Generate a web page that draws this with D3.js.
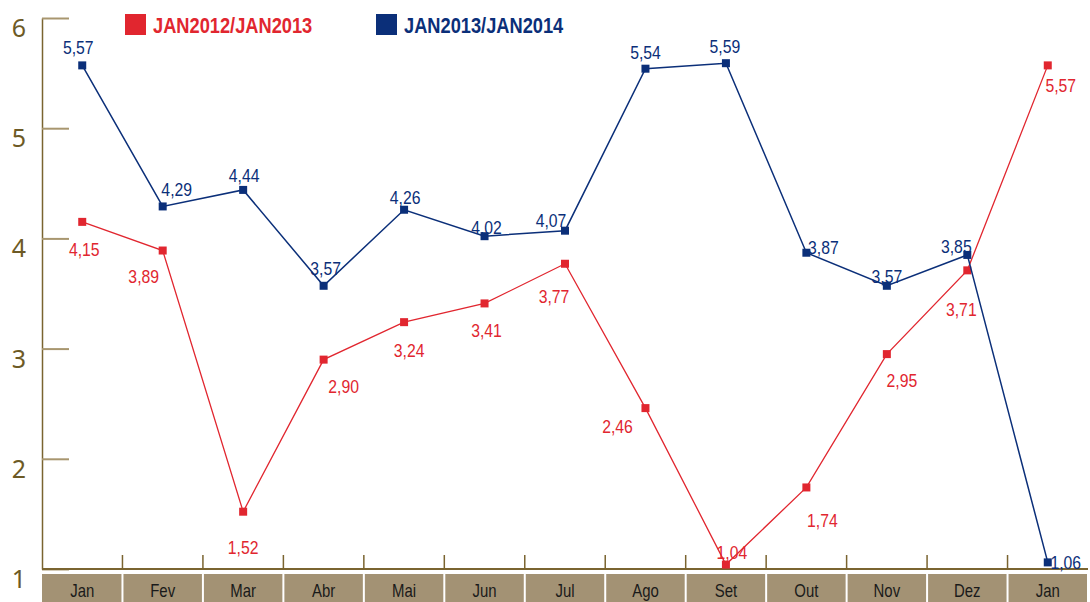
<!DOCTYPE html>
<html>
<head>
<meta charset="utf-8">
<script src="https://cdn.jsdelivr.net/npm/d3@7"></script>
<style>
  body { margin: 0; background: #fff; }
  .narrow { font-family: "Liberation Sans Narrow", "Liberation Sans", Arial, sans-serif; }
</style>
</head>
<body>
<div id="grafico"></div>
<script>
// dados
var meses = ["Jan", "Fev", "Mar", "Abr", "Mai", "Jun", "Jul", "Ago", "Set", "Out", "Nov", "Dez", "Jan"];
var serie1213 = [4.15, 3.89, 1.52, 2.90, 3.24, 3.41, 3.77, 2.46, 1.04, 1.74, 2.95, 3.71, 5.57];
var serie1314 = [5.57, 4.29, 4.44, 3.57, 4.26, 4.02, 4.07, 5.54, 5.59, 3.87, 3.57, 3.85, 1.06];
var yTicks = [1, 2, 3, 4, 5, 6];
var nomes = ["JAN2012/JAN2013", "JAN2013/JAN2014"];

// deslocamento dos rótulos (dx, dy) em relação ao ponto
var offs1213 = [[2, 34], [-19, 32], [0, 42], [20, 33], [5, 35], [2, 34], [-11, 39], [-28, 25], [6, -6], [16, 40], [15, 33], [-6, 46], [13, 27]];
var offs1314 = [[-4, -11], [14, -10], [1, -8], [2, -11], [1, -6], [2, -2], [-14, -4], [0, -10], [-1, -10], [17, 1], [0, -3], [-11, -2], [18, 7]];

var w = 1090, h = 602,
    margin = {top: 18, right: 2, bottom: 33, left: 42},
    red = "#e1262f",
    blue = "#0b2f79",
    brown = "#7a6430",
    squeeze = 0.83; // fonte condensada

var svg = d3.select("#grafico")
            .append("svg")
            .attr("width", w)
            .attr("height", h)
            .style("background-color", "white");

var width = w - margin.left - margin.right,
    height = h - margin.top - margin.bottom,
    g = svg.append("g").attr("transform", "translate(" + margin.left + "," + margin.top + ")");

var x = d3.scaleBand().domain(d3.range(meses.length)).range([0, width]).padding(0);
var y = d3.scaleLinear().domain([1, 6]).range([height, 0]);

function narrowAt(px, py) {
    return "translate(" + px + "," + py + ") scale(" + squeeze + ",1)";
}

// faixa das categorias
var faixa = g.append("g").attr("transform", "translate(0," + (height + 5) + ")");
faixa.selectAll("rect")
    .data(meses)
    .enter()
    .append("rect")
    .attr("x", function (d, i) { return x(i) + (i == 0 ? 0 : 1); })
    .attr("width", function (d, i) { return x.bandwidth() - (i == 0 ? 1 : 2); })
    .attr("y", 0)
    .attr("height", 30)
    .attr("fill", "#a39274");
faixa.selectAll("text")
    .data(meses)
    .enter()
    .append("text")
    .attr("class", "narrow")
    .attr("transform", function (d, i) { return narrowAt(x(i) + x.bandwidth() / 2, 23); })
    .attr("text-anchor", "middle")
    .style("font-size", "18px")
    .attr("fill", "#1a1a1a")
    .text(function (d) { return d; });

// eixo y
var yAxis = d3.axisLeft(y).tickValues(yTicks).tickFormat(d3.format("d")).tickSizeInner(-27).tickSizeOuter(0);
var ay = g.append("g").attr("class", "axisY").call(yAxis);
ay.select(".domain").attr("stroke", brown).attr("stroke-width", 1.5);
ay.selectAll(".tick line").attr("stroke", "#a8966f").attr("stroke-width", 2);
ay.selectAll(".tick text")
    .attr("x", -23)
    .attr("dy", "0.74em")
    .attr("text-anchor", "middle")
    .style("font-family", "'Noto Sans', sans-serif")
    .style("font-size", "25px")
    .attr("fill", "#6d5a25");

// eixo x
g.append("line")
    .attr("x1", 0).attr("x2", width)
    .attr("y1", height).attr("y2", height)
    .attr("stroke", brown).attr("stroke-width", 2);
g.selectAll(".xtick")
    .data(d3.range(1, meses.length))
    .enter()
    .append("line")
    .attr("class", "xtick")
    .attr("x1", function (d) { return x(d); })
    .attr("x2", function (d) { return x(d); })
    .attr("y1", height)
    .attr("y2", height - 14)
    .attr("stroke", brown)
    .attr("stroke-width", 1.5);

var fmt = function (v) { return d3.format(".2f")(v).replace(".", ","); };

function desenhaSerie(valores, offs, cor, larg) {
    var cx = function (i) { return x(i) + x.bandwidth() / 2; };
    var linha = d3.line()
        .x(function (d, i) { return cx(i); })
        .y(function (d) { return y(d); });
    g.append("path")
        .datum(valores)
        .attr("d", linha)
        .attr("fill", "none")
        .attr("stroke", cor)
        .attr("stroke-width", larg);
    var s = g.append("g");
    s.selectAll("rect")
        .data(valores)
        .enter()
        .append("rect")
        .attr("x", function (d, i) { return cx(i) - 4; })
        .attr("y", function (d) { return y(d) - 4; })
        .attr("width", 8)
        .attr("height", 8)
        .attr("fill", cor);
    s.selectAll("text")
        .data(valores)
        .enter()
        .append("text")
        .attr("class", "narrow")
        .attr("transform", function (d, i) { return narrowAt(cx(i) + offs[i][0], y(d) + offs[i][1]); })
        .attr("text-anchor", "middle")
        .style("font-size", "19px")
        .attr("fill", cor)
        .text(function (d) { return fmt(d); });
}

desenhaSerie(serie1213, offs1213, red, 1.3);
desenhaSerie(serie1314, offs1314, blue, 1.5);

// legenda
var leg = svg.append("g");
[[125, red], [376, blue]].forEach(function (p, i) {
    leg.append("rect")
        .attr("x", p[0]).attr("y", 14)
        .attr("width", 21).attr("height", 21)
        .attr("fill", p[1]);
    leg.append("text")
        .attr("class", "narrow")
        .attr("transform", narrowAt(p[0] + 28, 33))
        .style("font-size", "22px")
        .style("font-weight", "bold")
        .attr("fill", p[1])
        .text(nomes[i]);
});
</script>
</body>
</html>
